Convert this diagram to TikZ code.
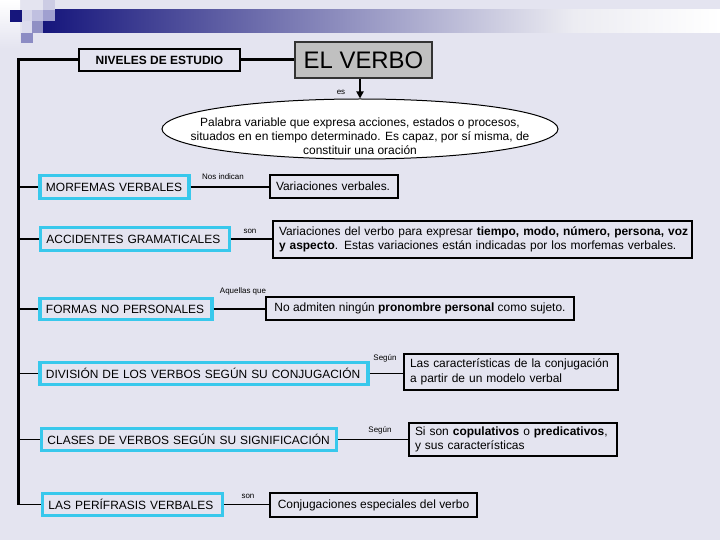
\documentclass[tikz,border=0pt]{standalone}
\usepackage{fontspec}
\setmainfont{Liberation Sans}
\usetikzlibrary{shapes.geometric,arrows.meta}
\definecolor{bg}{RGB}{228,228,240}
\definecolor{cyanb}{RGB}{56,200,236}
\definecolor{navyb}{RGB}{22,22,124}
\definecolor{barend}{RGB}{236,236,242}
\definecolor{greyb}{RGB}{192,192,192}
\definecolor{sqa}{RGB}{214,214,234}
\definecolor{sqb}{RGB}{192,192,224}
\definecolor{sqc}{RGB}{204,204,228}
\definecolor{sqd}{RGB}{160,160,208}
\definecolor{sqe}{RGB}{220,220,238}
\definecolor{sqf}{RGB}{144,144,196}
\definecolor{sqg}{RGB}{140,140,196}
\begin{document}
\begin{tikzpicture}[x=1bp,y=-1bp,
  cbox/.style={draw=cyanb, line width=3.2bp, fill=bg, inner xsep=6bp, inner ysep=2bp, minimum height=23bp, align=left, font=\fontsize{12}{14.5}\selectfont},
  bbox/.style={draw=black, line width=1.1bp, fill=bg, inner xsep=6bp, inner ysep=2bp, align=left, font=\fontsize{12}{14.5}\selectfont},
  lbl/.style={font=\fontsize{8}{9}\selectfont, inner sep=0pt},
  spine/.style={line width=3bp},
  branch/.style={line width=1.2bp},
]
\useasboundingbox (0,0) rectangle (720,540);
\fill[bg] (0,0) rectangle (720,540);
% decoration
\shade[top color=white, bottom color=bg] (0,0) rectangle (20,48);
\shade[left color=navyb, right color=barend] (43,10) rectangle (574,33);
\shade[left color=barend, right color=white] (574,10) rectangle (720,33);
\fill[navyb] (10,10) rectangle (22,22);
\fill[sqa] (22,10) rectangle (32,21);
\fill[sqb] (32,10) rectangle (43,21);
\fill[sqc] (43,0) rectangle (55,10);
\fill[sqd] (43,10) rectangle (55,21);
\fill[sqe] (22,21) rectangle (32,33);
\fill[sqf] (32,21) rectangle (43,33);
\fill[sqg] (21,33) rectangle (33,43);

% top nodes
\node[bbox, align=center, minimum width=161bp, minimum height=22bp, font=\bfseries\fontsize{12}{14}\selectfont] (niv) at (159.5,60) {NIVELES DE ESTUDIO};
\node[draw=black!80, line width=1.5bp, fill=greyb, minimum width=137bp, minimum height=36bp, inner sep=0pt, font=\fontsize{24}{26}\selectfont] (verbo) at (363.5,60) {EL VERBO};
\node[ellipse, draw, line width=1bp, fill=white, minimum width=396bp, minimum height=60bp, inner sep=0pt] (ell) at (360,129) {};
\node[align=center, inner sep=0pt, font=\fontsize{12}{14}\selectfont] (elltxt) at (360,136) {Palabra variable que expresa acciones, estados o procesos,\\situados en en tiempo determinado. Es capaz, por sí misma, de\\constituir una oración};

% left boxes
\node[cbox, text width=137bp] (morf) at (114.5,187) {\mbox{MORFEMAS VERBALES}};
\node[cbox, text width=177bp] (acc) at (135,239) {\mbox{ACCIDENTES GRAMATICALES}};
\node[cbox, text width=160bp, minimum height=21bp] (form) at (126,309) {\mbox{FORMAS NO PERSONALES}};
\node[cbox, text width=316bp, minimum height=22bp] (div) at (204,373.5) {\mbox{DIVISIÓN DE LOS VERBOS SEGÚN SU CONJUGACIÓN}};
\node[cbox, text width=283bp, minimum height=22bp] (clas) at (189,439.5) {\mbox{CLASES DE VERBOS SEGÚN SU SIGNIFICACIÓN}};
\node[cbox, text width=168bp, minimum height=22bp] (peri) at (132.5,504.5) {\mbox{LAS PERÍFRASIS VERBALES}};

% right boxes
\node[bbox, text width=116bp, minimum height=23bp] (varv) at (334,186.5) {\mbox{Variaciones verbales.}};
\node[bbox, text width=407bp, minimum height=37bp] (varbig) at (482.5,239.5) {\mbox{Variaciones del verbo para expresar \textbf{tiempo, modo, número, persona, voz}}\\\mbox{\textbf{y aspecto}. Estas variaciones están indicadas por los morfemas verbales.}};
\node[bbox, align=center, minimum width=308bp, minimum height=23bp] (noadm) at (420,308.5) {No admiten ningún \textbf{pronombre personal} como sujeto.};
\node[bbox, text width=202bp, minimum height=36bp] (carac) at (511,372) {\mbox{Las características de la conjugación}\\\mbox{a partir de un modelo verbal}};
\node[bbox, text width=196bp, minimum height=33bp] (sison) at (513,439.5) {\mbox{Si son \textbf{copulativos} o \textbf{predicativos},}\\\mbox{y sus características}};
\node[bbox, align=center, minimum width=207bp, minimum height=24bp] (conj) at (373.5,505) {Conjugaciones especiales del verbo};

% spine
\coordinate (top) at (18,60);
\coordinate (bot) at (18,504.5);
\draw[spine, line join=miter] (bot) -- (top) -- (niv.west);
\draw[spine] (niv.east) -- (verbo.west);
\draw[line width=2bp, -{Triangle[width=7bp,length=7bp]}] (ell.north |- verbo.south) -- (ell.north);
\node[lbl] (es) at (341,92) {es};

% branches
\foreach \n in {morf,acc,form,div,clas,peri}
  \draw[branch] (\n.west -| top) -- (\n.west);
\draw[branch] (morf.east) -- (morf.east -| varv.west);
\draw[branch] (acc.east) -- (acc.east -| varbig.west);
\draw[branch] (form.east) -- (form.east -| noadm.west);
\draw[branch] (div.east) -- (div.east -| carac.west);
\draw[branch] (clas.east) -- (clas.east -| sison.west);
\draw[branch] (peri.east) -- (peri.east -| conj.west);

% labels
\node[lbl] (l1) at (223,177) {Nos indican};
\node[lbl] (l2) at (250,231) {son};
\node[lbl] (l3) at (243,291) {Aquellas que};
\node[lbl] (l4) at (385,358) {Según};
\node[lbl] (l5) at (380,430) {Según};
\node[lbl] (l6) at (248,496) {son};
\end{tikzpicture}
\end{document}
